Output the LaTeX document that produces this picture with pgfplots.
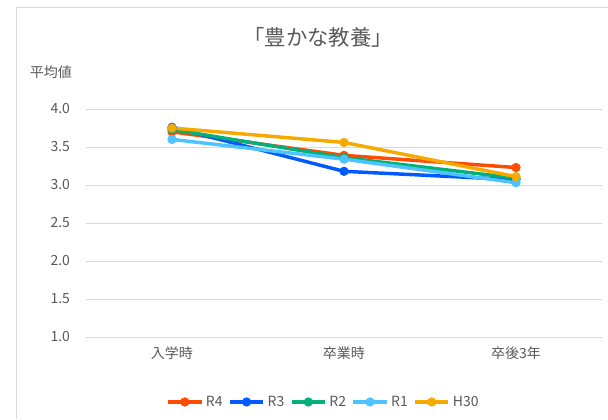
\documentclass[border=0pt]{standalone}
\usepackage{fontspec}
\setmainfont{Noto Sans CJK JP}
\usepackage{pgfplots}
\pgfplotsset{compat=1.18}
\definecolor{cRfour}{HTML}{FF4B00}
\definecolor{cRthree}{HTML}{005AFF}
\definecolor{cRtwo}{HTML}{03AF7A}
\definecolor{cRone}{HTML}{4DC4FF}
\definecolor{cH}{HTML}{F6AA00}
\definecolor{txt}{HTML}{595959}
\definecolor{grd}{HTML}{D9D9D9}
\begin{document}
\begin{tikzpicture}
\useasboundingbox (0,0) rectangle (456pt,314.25pt);
\draw[grd, line width=0.75pt] (12pt,0) -- (12pt,309pt) -- (456pt,309pt);
\node[text=txt, font=\fontsize{16}{19}\selectfont] at (238.5pt,286.5pt) {「豊かな教養」};
\node[text=txt, font=\fontsize{10.5}{12}\selectfont] at (38.25pt,260.25pt) {平均値};
\begin{axis}[
  at={(64.5pt,61.5pt)}, anchor=south west,
  width=387pt, height=171pt, scale only axis,
  xmin=-0.5, xmax=2.5, ymin=1, ymax=4,
  xtick={0,1,2}, xticklabels={入学時,卒業時,卒後3年},
  ytick={1,1.5,2,2.5,3,3.5,4},
  /pgf/number format/fixed,
  /pgf/number format/fixed zerofill,
  /pgf/number format/precision=1,
  /pgf/number format/assume math mode=true,
  tick label style={font=\fontsize{10.5}{12}\selectfont, text=txt},
  xticklabel style={yshift=-4pt},
  yticklabel style={xshift=-8.5pt},
  axis line style={draw=none},
  tick style={draw=none},
  ymajorgrids, grid style={grd, line width=0.75pt},
  clip=false,
  legend columns=5,
  legend style={at={(0.455,-0.285)}, anchor=center, draw=none, fill=none,
    font=\fontsize{10.5}{12}\selectfont, text=txt},
  legend image code/.code={\draw[mark repeat=2,mark phase=2] plot coordinates {(0pt,0pt)(12.5pt,0pt)(25pt,0pt)};},
  every axis plot/.append style={line width=2.6pt, mark=*, mark size=3.2pt, mark options={line width=0.5pt}},
]
\addplot[cRfour] coordinates {(0,3.70) (1,3.39) (2,3.23)};
\addlegendentry{\makebox[14.7pt][l]{R4}}
\addplot[cRthree] coordinates {(0,3.76) (1,3.18) (2,3.07)};
\addlegendentry{\makebox[14.7pt][l]{R3}}
\addplot[cRtwo] coordinates {(0,3.73) (1,3.36) (2,3.09)};
\addlegendentry{\makebox[14.7pt][l]{R2}}
\addplot[cRone] coordinates {(0,3.60) (1,3.34) (2,3.03)};
\addlegendentry{\makebox[14.7pt][l]{R1}}
\addplot[cH] coordinates {(0,3.75) (1,3.56) (2,3.11)};
\addlegendentry{\makebox[14.7pt][l]{H30}}
\end{axis}
\end{tikzpicture}
\end{document}
